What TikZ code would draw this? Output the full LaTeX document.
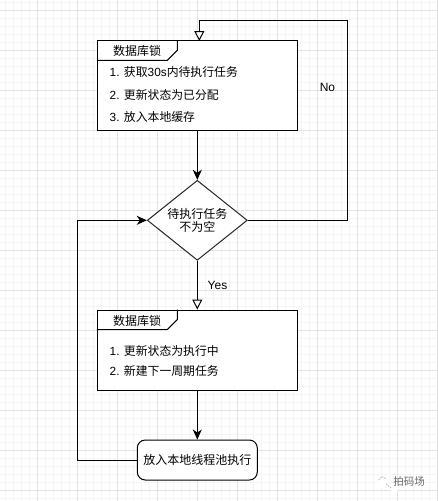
\documentclass[tikz,border=0pt]{standalone}
\usepackage{fontspec}
\setmainfont{Liberation Sans}
\newfontfamily\cjk{Noto Sans CJK SC}
\usetikzlibrary{shapes.geometric,arrows.meta}
\tikzset{
  x=1pt,y=-1pt,
  flowbox/.style={draw=black,fill=white,line width=1pt,rectangle,minimum width=200pt,inner sep=0pt},
  decision/.style={draw=black!85,fill=white,line width=1pt,diamond,shape aspect=1.25,minimum width=100pt,minimum height=80pt,inner sep=0pt,align=center,font=\fontsize{12}{14}\selectfont},
  roundbox/.style={draw=black,fill=white,line width=1pt,rectangle,rounded corners=8pt,minimum width=120pt,minimum height=40pt,inner sep=0pt,font=\fontsize{12}{14}\selectfont},
  txt/.style={inner sep=0pt,font=\fontsize{11.85}{14}\selectfont,anchor=west},
  conn/.style={line width=1pt,draw=black},
  solidtip/.style={-{Stealth[length=10pt,width=9pt,inset=3pt]}},
  opentip/.style={-{Triangle[open,fill=white,length=10pt,width=10pt]}},
}
\begin{document}
\begin{tikzpicture}
\useasboundingbox (0,0) rectangle (437,501);
\fill[white] (0,0) rectangle (437,501);
% grid
\foreach \i in {0,...,54}{\draw[line width=0.4pt,draw=black!4] ({5.3+8*\i},0) -- ({5.3+8*\i},501);}
\foreach \i in {0,...,62}{\draw[line width=0.4pt,draw=black!4] (0,{2+8*\i}) -- (437,{2+8*\i});}
\foreach \i in {0,...,10}{\draw[line width=0.6pt,draw=black!11] ({37.3+40*\i},0) -- ({37.3+40*\i},501);}
\foreach \i in {0,...,12}{\draw[line width=0.6pt,draw=black!11] (0,{10+40*\i}) -- (437,{10+40*\i});}

% nodes
\node[flowbox,minimum height=89.5pt] (lock1) at (197.3,85.5) {};
\node[decision] (dec) at (197.3,220.3) {{\cjk 待执行任务}\\[-1pt]{\cjk 不为空}};
\node[flowbox,minimum height=80pt] (lock2) at (197.3,350) {};
\node[roundbox] (run) at (197.3,460) {\cjk 放入本地线程池执行};

% frame tabs
\draw[conn] (lock1.north west) ++(0,20) coordinate (t1a) -- ++(70.5,0) coordinate (t1b) -- ++(10,-10) -- ++(0,-10);
\draw[conn] (lock2.north west) ++(0,20) coordinate (t2a) -- ++(70.5,0) coordinate (t2b) -- ++(10,-10) -- ++(0,-10);
\node[inner sep=0pt,font=\fontsize{12}{14}\selectfont] (tab1) at (137,50.5) {\cjk 数据库锁};
\node[inner sep=0pt,font=\fontsize{12}{14}\selectfont] (tab2) at (137,320.5) {\cjk 数据库锁};

\node[txt] (a1) at (109.5,72) {1. {\cjk 获取}30s{\cjk 内待执行任务}};
\node[txt] (a2) at (109.5,94.5) {2. {\cjk 更新状态为已分配}};
\node[txt] (a3) at (109.5,116.5) {3. {\cjk 放入本地缓存}};
\node[txt] (b1) at (109.5,351) {1. {\cjk 更新状态为执行中}};
\node[txt] (b2) at (109.5,371) {2. {\cjk 新建下一周期任务}};

% connectors
\coordinate (loopb) at (347,20.5);
\coordinate (loopc) at (199.3,20.5);
\coordinate (loopd) at (199.3,41);
\draw[conn,opentip] (dec.east) -| (loopb) -- (loopc) -- (loopd);
\draw[conn,solidtip] (lock1.south) -- (dec.north);
\draw[conn,opentip] (dec.south) -- (lock2.north);
\draw[conn,solidtip] (lock2.south) -- (run.north);
\coordinate (backa) at (77.3,460);
\draw[conn,solidtip] (run.west) -- (backa) |- (dec.west);

\node[inner sep=0pt,font=\fontsize{12}{14}\selectfont] (no) at (327.5,87) {No};
\node[inner sep=0pt,font=\fontsize{12}{14}\selectfont] (yes) at (217.5,285.5) {Yes};

% watermark
\fill[white] (384,483) ellipse (6.5 and 5.5);
\fill[white] (394,487) ellipse (5.5 and 4.5);
\draw[black!40,line width=0.5pt,dash pattern=on 1.5pt off 1pt] (378.5,480) -- (382,476.5) -- (386,479);
\draw[black!40,line width=0.5pt,dash pattern=on 1.5pt off 1pt] (386,484) -- (391,488);
\node[inner sep=0pt,text=black!60,font=\fontsize{10.5}{12}\selectfont] (mark) at (409,482) {\cjk 拍码场};
\end{tikzpicture}
\end{document}
